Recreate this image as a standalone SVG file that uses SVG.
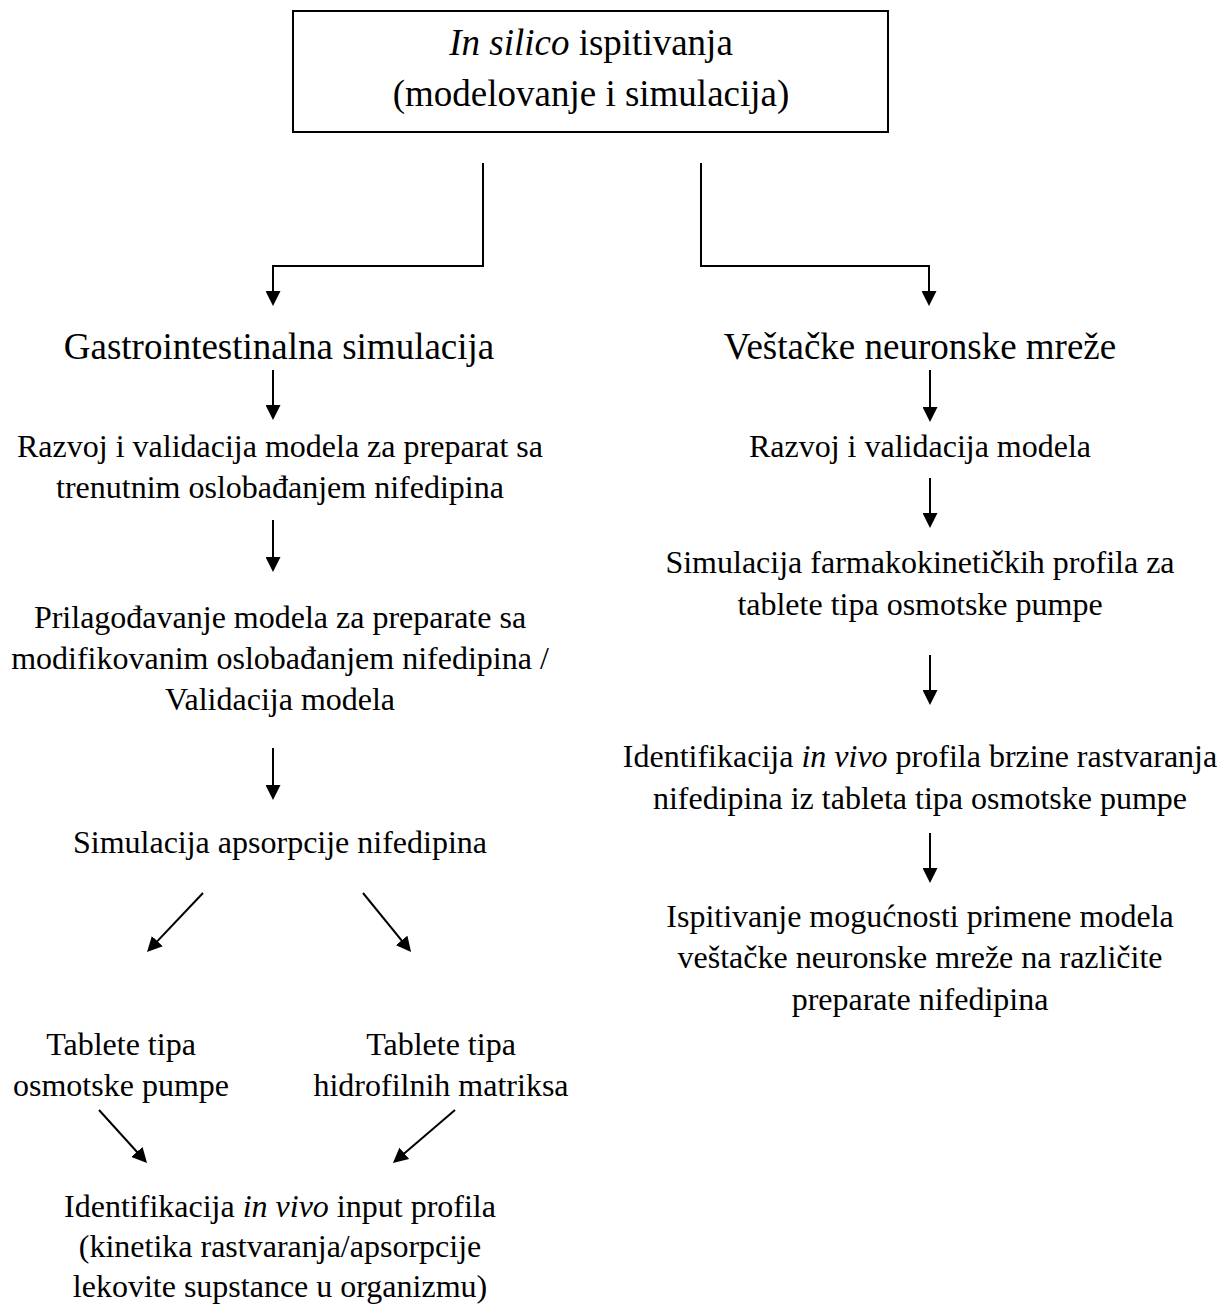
<svg xmlns="http://www.w3.org/2000/svg" width="1220" height="1305" viewBox="0 0 1220 1305">
<style>
text{font-family:"Liberation Serif","Times New Roman",serif;fill:#000;text-anchor:middle}
.b{font-size:32px}
.h{font-size:37px}
.i{font-style:italic}
.c{fill:none;stroke:#000;stroke-width:2}
</style>
<defs>
<marker id="ah" viewBox="0 0 10 10" refX="7.3" refY="5" markerWidth="15" markerHeight="15" markerUnits="userSpaceOnUse" orient="auto">
<path d="M0,0 L10,5 L0,10 z" fill="#000"/>
</marker>
</defs>
<rect width="1220" height="1305" fill="#fff"/>
<g id="top">
<rect x="293" y="11" width="595" height="121" fill="#fff" stroke="#000" stroke-width="2"/>
<text class="h" x="591" y="55"><tspan class="i">In silico</tspan> ispitivanja</text>
<text class="h" x="591" y="106">(modelovanje i simulacija)</text>
</g>
<g id="gastro"><text class="h" x="279" y="359">Gastrointestinalna simulacija</text></g>
<g id="neuro"><text class="h" x="920" y="359">Veštačke neuronske mreže</text></g>
<g id="l1"><text class="b" x="280" y="457">Razvoj i validacija modela za preparat sa</text><text class="b" x="280" y="498">trenutnim oslobađanjem nifedipina</text></g>
<g id="l2"><text class="b" x="280" y="628">Prilagođavanje modela za preparate sa</text><text class="b" x="280" y="669">modifikovanim oslobađanjem nifedipina /</text><text class="b" x="280" y="710">Validacija modela</text></g>
<g id="l3"><text class="b" x="280" y="853">Simulacija apsorpcije nifedipina</text></g>
<g id="l4a"><text class="b" x="121" y="1055">Tablete tipa</text><text class="b" x="121" y="1096">osmotske pumpe</text></g>
<g id="l4b"><text class="b" x="441" y="1055">Tablete tipa</text><text class="b" x="441" y="1096">hidrofilnih matriksa</text></g>
<g id="l5"><text class="b" x="280" y="1217">Identifikacija <tspan class="i">in vivo</tspan> input profila</text><text class="b" x="280" y="1257">(kinetika rastvaranja/apsorpcije</text><text class="b" x="280" y="1297">lekovite supstance u organizmu)</text></g>
<g id="r1"><text class="b" x="920" y="457">Razvoj i validacija modela</text></g>
<g id="r2"><text class="b" x="920" y="573">Simulacija farmakokinetičkih profila za</text><text class="b" x="920" y="615">tablete tipa osmotske pumpe</text></g>
<g id="r3"><text class="b" x="920" y="767">Identifikacija <tspan class="i">in vivo</tspan> profila brzine rastvaranja</text><text class="b" x="920" y="809">nifedipina iz tableta tipa osmotske pumpe</text></g>
<g id="r4"><text class="b" x="920" y="927">Ispitivanje mogućnosti primene modela</text><text class="b" x="920" y="968">veštačke neuronske mreže na različite</text><text class="b" x="920" y="1010">preparate nifedipina</text></g>
<g id="connectors" class="c" marker-end="url(#ah)">
<path class="c" d="M483,163 V266 H273 V302" marker-end="url(#ah)"/>
<path class="c" d="M701,163 V266 H929 V302" marker-end="url(#ah)"/>
<path class="c" d="M273,370 V416" marker-end="url(#ah)"/>
<path class="c" d="M273,520 V568" marker-end="url(#ah)"/>
<path class="c" d="M273,748 V796" marker-end="url(#ah)"/>
<path class="c" d="M203,893 L149.8,949.1" marker-end="url(#ah)"/>
<path class="c" d="M363,893 L408.5,948.9" marker-end="url(#ah)"/>
<path class="c" d="M99,1110 L144.3,1160" marker-end="url(#ah)"/>
<path class="c" d="M455,1110 L396,1160.4" marker-end="url(#ah)"/>
<path class="c" d="M930,370 V418" marker-end="url(#ah)"/>
<path class="c" d="M930,478 V524" marker-end="url(#ah)"/>
<path class="c" d="M930,655 V701" marker-end="url(#ah)"/>
<path class="c" d="M930,833 V879" marker-end="url(#ah)"/>
</g>
</svg>
